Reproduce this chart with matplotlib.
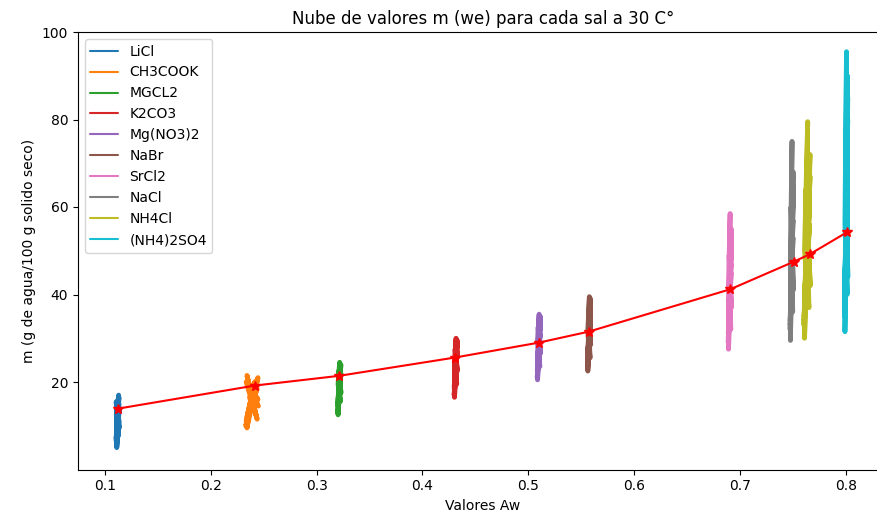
import matplotlib
matplotlib.use("Agg")
import matplotlib.pyplot as plt

# -- Data ---------------------------------------------------------------------
salts = ["LiCl", "CH3COOK", "MGCL2", "K2CO3", "Mg(NO3)2",
         "NaBr", "SrCl2", "NaCl", "NH4Cl", "(NH4)2SO4"]

# water activity of each salt (red curve) and mean moisture content
aw_mean = [0.112, 0.242, 0.321, 0.431, 0.510, 0.557, 0.691, 0.751, 0.766, 0.801]
m_mean = [13.9, 19.2, 21.4, 25.6, 29.0, 31.5, 41.2, 47.5, 49.2, 54.2]

# centre of each cloud on the Aw axis
aw_cloud = [0.112, 0.239, 0.3215, 0.4315, 0.510, 0.5575, 0.6905, 0.749, 0.7635, 0.8005]

# m values of each cloud (g agua / 100 g solido seco)
m_licl = [13, 9, 15, 11, 16.5, 7, 12, 14, 5, 10, 15.5, 8, 13.5, 11,
          6, 14.5, 9.5, 12.5, 17, 10.5, 7.5, 13, 15, 9, 11.5, 6.5, 14, 12]
m_ch3cook = [17, 12, 20, 14, 18.5, 10, 16, 21, 13, 19, 11, 17.5, 15, 20.5,
             9.5, 18, 14.5, 16.5, 12.5, 21.5, 15.5, 19.5, 11.5, 17, 13.5, 20, 16, 18]
m_mgcl2 = [20, 16, 23, 18, 21.5, 13, 19, 24, 17, 22, 14.5, 20.5, 18.5, 23.5,
           12.5, 21, 17.5, 22.5, 15.5, 19.5, 24.5, 16.5, 21, 18, 20, 15, 22, 19]
m_k2co3 = [25, 20, 28, 22, 26.5, 17, 24, 29.5, 21, 27, 18.5, 25.5, 23, 28.5,
           16.5, 26, 22.5, 27.5, 19.5, 24.5, 30, 21.5, 26, 23.5, 25, 19, 27, 24]
m_mgno3 = [29, 24, 33, 26, 31, 21, 28, 35, 25, 32, 22.5, 30, 27, 34,
           20.5, 30.5, 26.5, 32.5, 23.5, 29.5, 35.5, 25.5, 31, 27.5, 29, 23, 33.5, 28]
m_nabr = [31, 26, 36, 28, 33.5, 23, 30, 39, 27, 35, 24.5, 32, 29, 37.5,
          22.5, 33, 28.5, 34.5, 25.5, 31.5, 39.5, 27.5, 33, 29.5, 31, 25, 36.5, 30]
m_srcl2 = [41, 33, 48, 36, 45, 29, 39, 55, 35, 50, 31, 43, 38, 52,
           27.5, 46, 37, 49, 32, 42, 58.5, 34, 47, 40, 44, 30, 51, 40]
m_nacl = [47, 38, 58, 42, 53, 32, 45, 68, 40, 62, 34, 50, 43, 65,
          29.5, 55, 41, 60, 36, 48, 75, 39, 57, 46, 52, 33, 63, 46]
m_nh4cl = [49, 39, 62, 44, 56, 33, 47, 72, 41, 66, 35, 52, 45, 70,
           30, 58, 42, 64, 37, 50, 79.5, 40, 60, 48, 54, 34, 67, 48]
m_nh42so4 = [54, 42, 70, 47, 62, 35, 52, 85, 45, 76, 38, 58, 49, 90,
             31.5, 66, 44, 74, 40, 56, 95.5, 43, 68, 51, 60, 36, 80, 53]

m_clouds = [m_licl, m_ch3cook, m_mgcl2, m_k2co3, m_mgno3,
            m_nabr, m_srcl2, m_nacl, m_nh4cl, m_nh42so4]

# horizontal scatter of the points inside each cloud (Aw units)
aw_jitter = [0.000, -0.0012, 0.0006, -0.0006, 0.0012, -0.0015, 0.0003, 0.0014,
             -0.0009, 0.0009, -0.0014, 0.0006, -0.0003, 0.0012, -0.0012, 0.0,
             0.0015, -0.0006, 0.0009, -0.0012, 0.0003, -0.0009, 0.0012, -0.0003,
             0.0006, -0.0014, 0.0014, 0.0]
cloud_spread = [1.0, 4.0, 1.0, 1.0, 1.0, 1.0, 1.0, 1.0, 2.0, 1.0]

# -- Figure -------------------------------------------------------------------
fig = plt.figure(figsize=(8.78, 5.2), dpi=100)
W, H = 878, 520
ax = fig.add_axes([78 / W, 1 - 469.5 / H, (888 - 78) / W, (469.5 - 32) / H])

for name, xc, sp, ys in zip(salts, aw_cloud, cloud_spread, m_clouds):
    xs = [xc + sp * j for j in aw_jitter]
    ax.plot(xs, ys, lw=3.5, solid_capstyle="round", solid_joinstyle="round",
            label=name)

ax.plot(aw_mean, m_mean, "r-*", lw=1.5, markersize=7)

ax.set_xlim(0.0745, 0.84)
ax.set_ylim(0, 100)
ax.set_yticks([20, 40, 60, 80, 100])
ax.set_title("Nube de valores m (we) para cada sal a 30 C°", fontsize=12)
ax.set_xlabel("Valores Aw")
ax.set_ylabel("m (g de agua/100 g solido seco)")
leg = ax.legend(loc="upper left")
for h in leg.get_lines():
    h.set_linewidth(1.5)

fig.savefig("out.png", dpi=100)
